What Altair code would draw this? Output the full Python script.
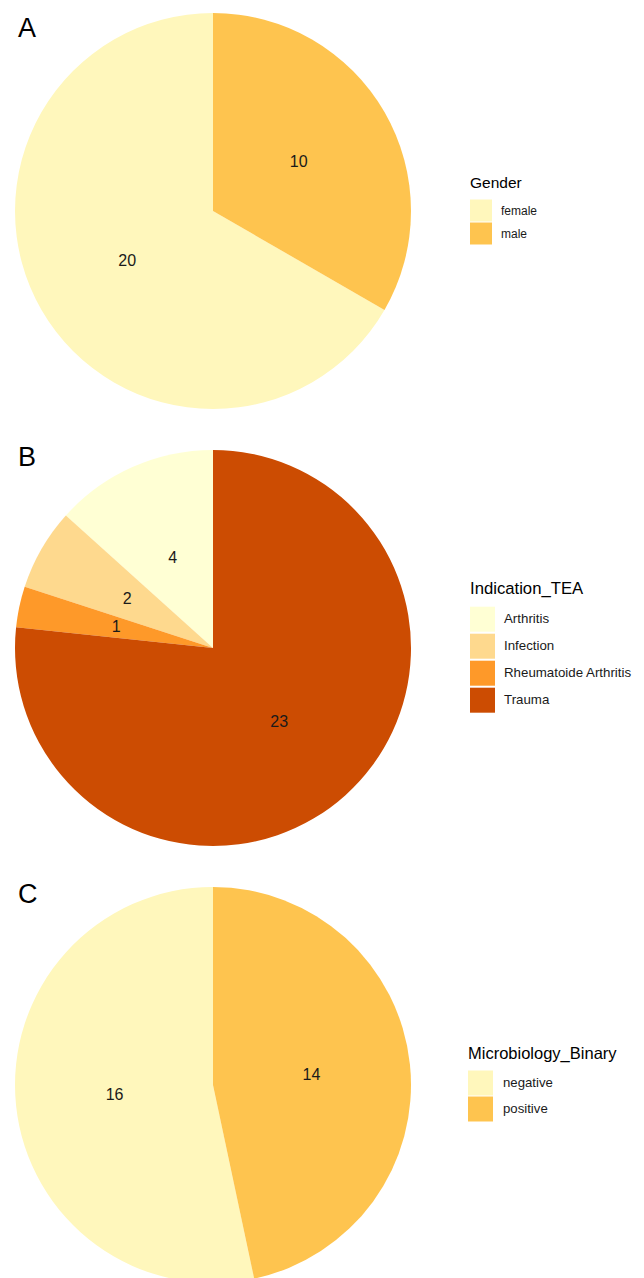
import altair as alt
import pandas as pd

# Panel A: gender
gender_cats = ["female", "male"]
gender_vals = [20, 10]
gender_colors = ["#FFF7BC", "#FEC44F"]

# Panel B: indication for TEA
ind_cats = ["Arthritis", "Infection", "Rheumatoide Arthritis", "Trauma"]
ind_vals = [4, 2, 1, 23]
ind_colors = ["#FFFFD4", "#FED98E", "#FE9929", "#CC4C02"]

# Panel C: microbiology result
micro_cats = ["negative", "positive"]
micro_vals = [16, 14]
micro_colors = ["#FFF7BC", "#FEC44F"]

FONT = "Liberation Sans"
R = 198
CX, CY = 213, 211


def pie(letter, letter_y, title, cats, vals, colors, height, legend,
        pie_cy=CY):
    # slices are drawn clockwise from 12 o'clock, last category first
    df = pd.DataFrame({
        "cat": cats,
        "n": vals,
        "ord": list(range(len(cats), 0, -1)),
    })
    base = alt.Chart(df).encode(
        theta=alt.Theta("n:Q", stack=True),
        order=alt.Order("ord:Q", sort="ascending"),
    )
    key = legend["key"]
    arcs = base.mark_arc(outerRadius=R, stroke=None).encode(
        x=alt.value(CX),
        y=alt.value(pie_cy),
        color=alt.Color(
            "cat:N",
            scale=alt.Scale(domain=cats, range=colors),
            legend=alt.Legend(
                title=title,
                orient="none",
                legendX=legend["x"],
                legendY=legend["y"],
                symbolType="square",
                symbolSize=key * key,
                symbolStrokeWidth=0,
                symbolOpacity=1,
                rowPadding=legend["gap"],
                labelFont=FONT,
                labelFontSize=legend["label"],
                labelColor="#1a1a1a",
                labelOffset=legend["offset"],
                titleFont=FONT,
                titleFontSize=legend["title"],
                titleFontWeight="normal",
                titleColor="#000000",
                titlePadding=legend["pad"],
            ),
        ),
    )
    labels = base.mark_text(
        radius=99, font=FONT, fontSize=16, color="#1a1a1a"
    ).encode(
        x=alt.value(CX),
        y=alt.value(pie_cy),
        text=alt.Text("n:Q"),
        detail="cat:N",
    )
    tag = alt.Chart(pd.DataFrame({"tag": [letter]})).mark_text(
        font=FONT, fontSize=27, color="#000000", align="left", baseline="middle"
    ).encode(x=alt.value(18), y=alt.value(letter_y), text="tag:N")
    return alt.layer(arcs, labels, tag).properties(width=644, height=height)


panel_a = pie(
    "A", 29, "Gender", gender_cats, gender_vals, gender_colors, 437,
    dict(x=470, y=176, key=22, gap=1, label=12, offset=9, title=15.5, pad=8),
)
panel_b = pie(
    "B", 21, "Indication_TEA", ind_cats, ind_vals, ind_colors, 437,
    dict(x=470, y=144, key=25, gap=2, label=13.3, offset=9, title=16.7, pad=9),
)
panel_c = pie(
    "C", 21, "Microbiology_Binary", micro_cats, micro_vals, micro_colors, 404,
    dict(x=468, y=172, key=25, gap=1, label=13.2, offset=10, title=16.5, pad=8),
)

chart = (
    alt.vconcat(panel_a, panel_b, panel_c, spacing=0)
    .resolve_scale(color="independent")
    .properties(padding=0, background="white")
    .configure_view(stroke=None)
)

chart.save("out.html", embed_options={"renderer": "svg", "actions": False})
